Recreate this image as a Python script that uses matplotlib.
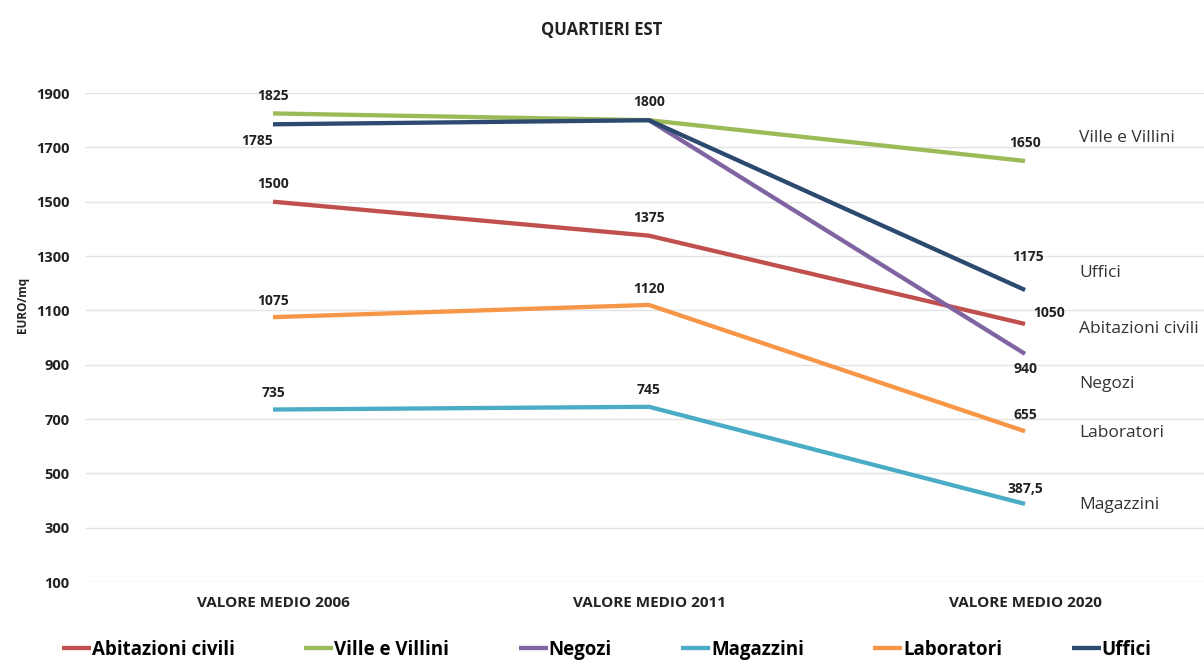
import numpy as np
import matplotlib
matplotlib.use("Agg")
import matplotlib.pyplot as plt

plt.rcParams['font.family'] = ['Open Sans', 'DejaVu Sans']

# data
categories = ['VALORE MEDIO 2006', 'VALORE MEDIO 2011', 'VALORE MEDIO 2020']
series_names = ['Abitazioni civili', 'Ville e Villini', 'Negozi',
                'Magazzini', 'Laboratori', 'Uffici']
abitazioni = [1500, 1375, 1050]
ville = [1825, 1800, 1650]
negozi = [np.nan, 1800, 940]
magazzini = [735, 745, 387.5]
laboratori = [1075, 1120, 655]
uffici = [1785, 1800, 1175]
yticks = [100, 300, 500, 700, 900, 1100, 1300, 1500, 1700, 1900]

colors = {'Abitazioni civili': '#C0504D', 'Ville e Villini': '#9BBB59',
          'Negozi': '#8064A2', 'Magazzini': '#4BACC6',
          'Laboratori': '#F79646', 'Uffici': '#2C4A70'}
values = {'Abitazioni civili': abitazioni, 'Ville e Villini': ville,
          'Negozi': negozi, 'Magazzini': magazzini,
          'Laboratori': laboratori, 'Uffici': uffici}

# point label offsets (points) per series, per category
label_off = {
    'Abitazioni civili': [(0, 12.5), (0, 12.5), (17, 8)],
    'Ville e Villini': [(0, 12.5), None, (0, 13)],
    'Negozi': [None, None, (0, -11)],
    'Magazzini': [(0, 12), (0, 12), (0, 11)],
    'Laboratori': [(0, 11.5), (0, 11.5), (0, 12)],
    'Uffici': [(-11.5, -12), (0, 13), (2, 24)],
}
# right-hand label offsets (points) from last point
end_off = {'Ville e Villini': 16.5, 'Uffici': 12, 'Abitazioni civili': -3.6,
           'Negozi': -22, 'Laboratori': -1.5, 'Magazzini': -0.7}

x = np.arange(len(categories))

fig = plt.figure(figsize=(12.04, 6.68), dpi=100)
ax = fig.add_axes([0.0706, 0.1287, 0.9369, 0.7320])

for name in series_names:
    ax.plot(x, values[name], color=colors[name], lw=3.1,
            solid_capstyle='butt', label=name)

for name in series_names:
    for i, v in enumerate(values[name]):
        off = label_off[name][i]
        if off is None or np.isnan(v):
            continue
        txt = ('%g' % v).replace('.', ',')
        ax.annotate(txt, (x[i], v), xytext=off, textcoords='offset points',
                    ha='center', va='center', fontsize=10, fontweight='bold',
                    color='#222222')
    ax.annotate(name, (x[-1], values[name][-1]),
                xytext=(39, end_off[name]), textcoords='offset points',
                ha='left', va='center', fontsize=12.5, color='#333333',
                annotation_clip=False)

ax.set_xlim(-0.5, 2.5)
ax.set_ylim(100, 1900)
ax.set_yticks(yticks)
ax.set_xticks(x)
ax.set_xticklabels(categories, fontsize=11, fontweight='bold', color='#222222')
ax.tick_params(axis='y', labelsize=10.5, length=0, pad=11, labelcolor='#222222')
ax.tick_params(axis='x', length=0, pad=10)
for lbl in ax.get_yticklabels():
    lbl.set_fontweight('bold')
ax.grid(axis='y', color='#E3E3E3', lw=1)
ax.set_axisbelow(True)
for s in ax.spines.values():
    s.set_visible(False)
ax.set_ylabel('EURO/mq', fontsize=8.5, fontweight='bold', color='#222222', labelpad=6)
ax.yaxis.set_label_coords(-0.05, 0.566)

fig.text(0.5, 0.955, 'QUARTIERI EST', ha='center', va='center',
         fontsize=12, fontweight='bold', color='#222222')

handles, labels = ax.get_legend_handles_labels()
fig.legend(handles, labels, loc='center', bbox_to_anchor=(0.504, 0.027),
           ncol=6, frameon=False, handlelength=1.55, handletextpad=0.05,
           columnspacing=3.7, prop={'size': 13.5, 'weight': 'bold'})

fig.savefig('out.png', dpi=100)
